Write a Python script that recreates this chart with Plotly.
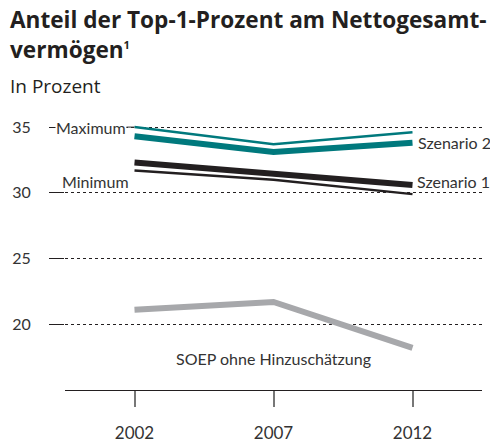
import plotly.graph_objects as go

years = [2002, 2007, 2012]
maximum = [35.0, 33.7, 34.6]
szenario2 = [34.3, 33.1, 33.8]
szenario1 = [32.3, 31.5, 30.6]
minimum = [31.7, 31.0, 29.9]
soep = [21.1, 21.7, 18.2]
y_ticks = [20, 25, 30, 35]

TEAL = "#00797d"
BLACK = "#231f20"
GRAY = "#a7a8ab"
TXT = "#333333"
FONT = "Lato"
TFONT = "Open Sans"

W, H = 490, 442
L, R, T, B = 65, 8, 110, 52
PW, PH = W - L - R, H - T - B

fig = go.Figure()
fig.add_trace(go.Scatter(x=years, y=soep, mode="lines", line=dict(color=GRAY, width=6)))
fig.add_trace(go.Scatter(x=years, y=maximum, mode="lines", line=dict(color=TEAL, width=2.5)))
fig.add_trace(go.Scatter(x=years, y=minimum, mode="lines", line=dict(color=BLACK, width=2.5)))
fig.add_trace(go.Scatter(x=years, y=szenario2, mode="lines", line=dict(color=TEAL, width=6)))
fig.add_trace(go.Scatter(x=years, y=szenario1, mode="lines", line=dict(color=BLACK, width=6)))

fig.update_layout(
    width=W, height=H, autosize=False,
    margin=dict(l=L, r=R, t=T, b=B),
    paper_bgcolor="white", plot_bgcolor="white",
    showlegend=False,
    font=dict(family=FONT, color=TXT, size=16),
)
fig.update_xaxes(
    range=[1999.5, 2014.5], tickvals=years, ticktext=[str(y) for y in years],
    showgrid=False, zeroline=False, showline=True, linecolor=BLACK, linewidth=1,
    ticks="outside", ticklen=16, tickcolor="#777777", tickwidth=1.5,
    ticklabelstandoff=12, tickfont=dict(size=17, family=FONT, color=TXT),
    automargin=False,
)
fig.update_yaxes(
    range=[15, 36.3], tickvals=y_ticks, ticktext=[str(v) for v in y_ticks],
    showgrid=True, gridcolor=BLACK, gridwidth=1, griddash="3px,3px",
    zeroline=False, showline=False,
    ticks="outside", ticklen=15, tickcolor=BLACK, tickwidth=1.2,
    ticklabelstandoff=15, tickfont=dict(size=16, family=FONT, color=TXT),
    automargin=False,
)

def px_x(px):
    return (px - L) / PW

def px_y(py):
    return 1 + (T - py) / PH

ann = [
    dict(xref="paper", yref="paper", x=px_x(8), y=px_y(2),
         xanchor="left", yanchor="top", align="left", showarrow=False,
         text="<b>Anteil der Top-1-Prozent am Nettogesamt-</b>",
         font=dict(family=TFONT, size=22.6, color=BLACK)),
    dict(xref="paper", yref="paper", x=px_x(8), y=px_y(32),
         xanchor="left", yanchor="top", align="left", showarrow=False,
         text="<b>vermögen<sup><span style='font-size:11px'>1</span></sup></b>",
         font=dict(family=TFONT, size=22.6, color=BLACK)),
    dict(xref="paper", yref="paper", x=px_x(8), y=px_y(71),
         xanchor="left", yanchor="top", align="left", showarrow=False,
         text="In Prozent", font=dict(family=TFONT, size=19, color=BLACK)),
    dict(x=years[0], y=maximum[0], xref="x", yref="y", text="Maximum",
         showarrow=True, arrowhead=0, arrowwidth=1, arrowcolor=TXT, ax=-8, ay=0,
         xanchor="right", bgcolor="white", borderpad=0,
         font=dict(family=FONT, size=16, color=TXT)),
    dict(x=years[0], y=30, xref="x", yref="y", text="Minimum",
         showarrow=False, xanchor="right", yanchor="bottom", xshift=-4, yshift=0,
         font=dict(family=FONT, size=16, color=TXT)),
    dict(x=years[2], y=szenario2[2], xref="x", yref="y", text="Szenario 2",
         showarrow=False, xanchor="left", xshift=3,
         font=dict(family=FONT, size=16, color=TXT)),
    dict(x=years[2], y=szenario1[2], xref="x", yref="y", text="Szenario 1",
         showarrow=False, xanchor="left", xshift=2, yshift=3,
         font=dict(family=FONT, size=16, color=TXT)),
    dict(x=years[1], y=soep[2], xref="x", yref="y", text="SOEP ohne Hinzuschätzung",
         showarrow=False, xanchor="center", yanchor="top", yshift=1,
         font=dict(family=FONT, size=16, color=TXT)),
]
fig.update_layout(annotations=ann)

fig.write_html(
    "out.html",
    config={"responsive": False, "displayModeBar": False},
    post_script="document.body.style.margin='0';document.body.style.overflow='hidden';",
)
